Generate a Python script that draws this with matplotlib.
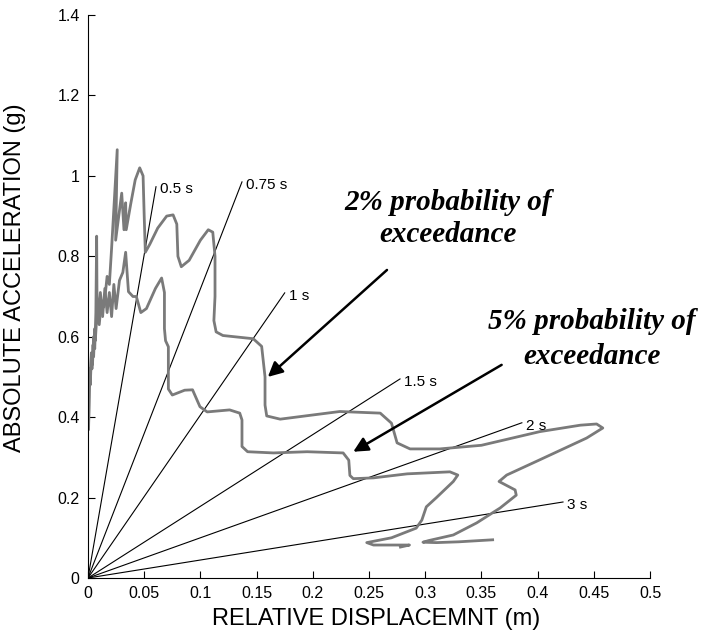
import matplotlib
matplotlib.use("Agg")
from matplotlib import pyplot as plt

# period lines (constant T) : end displacement / end acceleration
periods = ["0.5 s", "0.75 s", "1 s", "1.5 s", "2 s", "3 s"]
period_disp = [0.0605, 0.137, 0.175, 0.2776, 0.386, 0.4226]
period_acc = [0.973, 0.985, 0.709, 0.495, 0.386, 0.189]

# 2% probability of exceedance spectrum
disp_2pct = [0.0005, 0.001, 0.0015, 0.002, 0.003, 0.0035, 0.0045, 0.005, 0.006, 0.0065,
             0.008, 0.010, 0.012, 0.0142, 0.017, 0.019, 0.021, 0.026, 0.0246, 0.030,
             0.032, 0.0335, 0.034, 0.038, 0.042, 0.046, 0.049, 0.050, 0.051, 0.055,
             0.062, 0.070, 0.0757, 0.079, 0.080, 0.083, 0.090, 0.100, 0.107, 0.111,
             0.113, 0.113, 0.112, 0.114, 0.120, 0.147, 0.1545, 0.1575, 0.1575, 0.159,
             0.171, 0.224, 0.260, 0.270, 0.275, 0.2865, 0.313, 0.350, 0.402, 0.438,
             0.4525, 0.458, 0.4436, 0.402, 0.3725, 0.3657, 0.380, 0.381, 0.3666, 0.3458,
             0.325, 0.303, 0.298, 0.310, 0.330, 0.360]
acc_2pct = [0.37, 0.44, 0.50, 0.48, 0.55, 0.52, 0.58, 0.55, 0.62, 0.59,
            0.66, 0.63, 0.69, 0.674, 0.75, 0.73, 0.82, 1.065, 0.84, 0.957,
            0.866, 0.933, 0.866, 0.93, 0.99, 1.02, 1.00, 0.90, 0.81, 0.83,
            0.87, 0.90, 0.903, 0.88, 0.80, 0.774, 0.79, 0.84, 0.866, 0.86,
            0.80, 0.70, 0.64, 0.612, 0.603, 0.595, 0.576, 0.50, 0.43, 0.403,
            0.395, 0.414, 0.41, 0.385, 0.336, 0.321, 0.321, 0.33, 0.364, 0.38,
            0.383, 0.373, 0.348, 0.294, 0.256, 0.24, 0.219, 0.206, 0.174, 0.137,
            0.107, 0.093, 0.089, 0.088, 0.09, 0.095]

# 5% probability of exceedance spectrum
disp_5pct = [0.0005, 0.001, 0.0015, 0.002, 0.003, 0.004, 0.005, 0.006, 0.007, 0.0077,
             0.008, 0.009, 0.011, 0.013, 0.015, 0.017, 0.019, 0.021, 0.023, 0.025,
             0.028, 0.031, 0.0335, 0.036, 0.040, 0.043, 0.047, 0.052, 0.060, 0.0655,
             0.068, 0.068, 0.069, 0.0715, 0.0715, 0.075, 0.086, 0.093, 0.0996, 0.106,
             0.126, 0.135, 0.137, 0.137, 0.142, 0.165, 0.195, 0.227, 0.232, 0.233,
             0.236, 0.254, 0.284, 0.322, 0.329, 0.325, 0.310, 0.301, 0.297, 0.292,
             0.270, 0.248, 0.254, 0.286, 0.278]
acc_5pct = [0.38, 0.46, 0.52, 0.50, 0.56, 0.53, 0.60, 0.57, 0.66, 0.85,
            0.70, 0.64, 0.71, 0.65, 0.72, 0.66, 0.71, 0.65, 0.73, 0.67,
            0.74, 0.76, 0.81, 0.712, 0.70, 0.70, 0.66, 0.67, 0.72, 0.746,
            0.71, 0.62, 0.59, 0.575, 0.47, 0.455, 0.467, 0.468, 0.426, 0.413,
            0.418, 0.41, 0.393, 0.327, 0.314, 0.311, 0.314, 0.311, 0.293, 0.255,
            0.247, 0.249, 0.259, 0.264, 0.256, 0.240, 0.20, 0.177, 0.144, 0.124,
            0.10, 0.088, 0.082, 0.082, 0.077]

x_ticks = [0, 0.05, 0.1, 0.15, 0.2, 0.25, 0.3, 0.35, 0.4, 0.45, 0.5]
x_tick_labels = ["0", "0.05", "0.1", "0.15", "0.2", "0.25", "0.3", "0.35", "0.4", "0.45", "0.5"]
y_ticks = [0, 0.2, 0.4, 0.6, 0.8, 1.0, 1.2, 1.4]
y_tick_labels = ["0", "0.2", "0.4", "0.6", "0.8", "1", "1.2", "1.4"]

plt.rcParams['font.family'] = ['Liberation Sans', 'DejaVu Sans']

fig = plt.figure(figsize=(7.03, 6.37), dpi=100)
ax = fig.add_axes([88 / 703, 1 - 578 / 637, 562 / 703, 563 / 637])

# fan of constant period lines from the origin
for lab, d, a in zip(periods, period_disp, period_acc):
    ax.plot([0, d], [0, a], color='black', lw=0.8)
    ax.annotate(lab, xy=(d, a), xytext=(3, -2), textcoords='offset points',
                ha='left', va='center', fontsize=11)

# the two spectra
ax.plot(disp_2pct, acc_2pct, color='#7a7a7a', lw=2.0, solid_joinstyle='round')
ax.plot(disp_5pct, acc_5pct, color='#7a7a7a', lw=2.0, solid_joinstyle='round')

# annotations
serif = dict(family='Liberation Serif', weight='bold', style='italic', fontsize=21,
             ha='center', va='center')
ax.text(0.32, 0.933, '2% probability of', **serif)
ax.text(0.32, 0.853, 'exceedance', **serif)
ax.text(0.448, 0.637, '5% probability of', **serif)
ax.text(0.448, 0.55, 'exceedance', **serif)

arrow = dict(arrowstyle='-|>', lw=1.8, color='black', mutation_scale=22,
             shrinkA=0, shrinkB=0)
ax.annotate('', xy=(0.160, 0.50), xytext=(0.266, 0.766), arrowprops=arrow)
ax.annotate('', xy=(0.236, 0.314), xytext=(0.368, 0.53), arrowprops=arrow)

ax.set_xlim(0, 0.5)
ax.set_ylim(0, 1.4)
ax.set_xticks(x_ticks)
ax.set_xticklabels(x_tick_labels)
ax.set_yticks(y_ticks)
ax.set_yticklabels(y_tick_labels)
ax.tick_params(direction='in', length=5, width=0.8, labelsize=11.5, pad=6)
ax.spines['top'].set_visible(False)
ax.spines['right'].set_visible(False)

ax.set_xlabel('RELATIVE DISPLACEMNT (m)', fontsize=17)
ax.set_ylabel('ABSOLUTE ACCELERATION (g)', fontsize=17)
ax.xaxis.set_label_coords(0.512, -0.053)
ax.yaxis.set_label_coords(-0.11, 0.533)

fig.savefig('out.png', dpi=100)
